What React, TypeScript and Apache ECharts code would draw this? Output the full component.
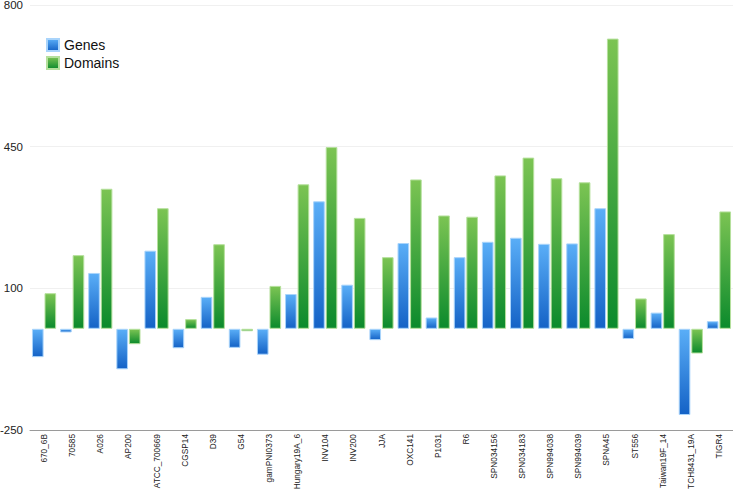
import React, { useEffect, useRef } from "react";
import * as echarts from "echarts";

const categories = [
  "670_6B", "70585", "A026", "AP200", "ATCC_700669", "CGSP14", "D39", "G54",
  "gamPNI0373", "Hungary19A_6", "INV104", "INV200", "JJA", "OXC141", "P1031",
  "R6", "SPN034156", "SPN034183", "SPN994038", "SPN994039", "SPNA45", "ST556",
  "Taiwan19F_14", "TCH8431_19A", "TIGR4",
];
const genes = [
  -70, -9, 138, -100, 193, -48, 79, -47, -64, 86, 315, 109, -28, 212, 28, 177,
  215, 225, 210, 211, 298, -25, 40, -213, 19,
];
const domains = [
  88, 182, 346, -38, 298, 24, 209, -6, 106, 357, 449, 274, 177, 369, 280, 277,
  379, 423, 372, 362, 717, 75, 234, -61, 290,
];
const yMin = -250;
const yMax = 800;
const yInterval = 350;

const FONT = "'Liberation Sans', Arial, Helvetica, sans-serif";

export default function App() {
  const ref = useRef<HTMLDivElement>(null);
  useEffect(() => {
    if (!ref.current) return;
    const chart = echarts.init(ref.current, undefined, { renderer: "svg" });
    const grad = (top: string, bottom: string) =>
      new echarts.graphic.LinearGradient(0, 0, 0, 1, [
        { offset: 0, color: top },
        { offset: 1, color: bottom },
      ]);
    chart.setOption({
      animation: false,
      textStyle: { fontFamily: FONT },
      legend: {
        orient: "vertical",
        left: 41,
        top: 33,
        itemWidth: 12,
        itemHeight: 12,
        itemGap: 4,
        icon: "rect",
        textStyle: { fontSize: 14, color: "#111", fontFamily: FONT },
        data: ["Genes", "Domains"],
      },
      grid: {
        left: 30,
        right: 0,
        top: 5,
        height: 425,
        containLabel: false,
        outerBoundsMode: "none",
      },
      xAxis: {
        type: "category",
        data: categories,
        axisLine: { show: true, onZero: false, lineStyle: { color: "#9a9a9a", width: 1 } },
        axisTick: { show: false },
        axisLabel: {
          rotate: 90,
          fontSize: 8.3,
          color: "#222",
          interval: 0,
          margin: 4,
          fontFamily: FONT,
        },
        position: "bottom",
      },
      yAxis: {
        type: "value",
        min: yMin,
        max: yMax,
        interval: yInterval,
        axisLine: { show: false },
        axisTick: { show: false },
        axisLabel: { fontSize: 11.5, color: "#222", margin: 7, fontFamily: FONT },
        splitLine: { show: true, lineStyle: { color: "#f0f0f0", width: 1 } },
      },
      series: [
        {
          name: "Genes",
          type: "bar",
          data: genes,
          barCategoryGap: "14%",
          barGap: "8%",
          itemStyle: {
            color: grad("#5aaef7", "#1462c6"),
            borderColor: "#a9d4fb",
            borderWidth: 1,
          },
        },
        {
          name: "Domains",
          type: "bar",
          data: domains,
          barCategoryGap: "14%",
          barGap: "8%",
          itemStyle: {
            color: grad("#7cc453", "#0b8a2c"),
            borderColor: "#b5e09c",
            borderWidth: 1,
          },
        },
      ],
    });
    return () => chart.dispose();
  }, []);
  return (
    <div
      ref={ref}
      style={{ position: "absolute", left: 0, top: 0, width: 733, height: 492, background: "#fff" }}
    />
  );
}
